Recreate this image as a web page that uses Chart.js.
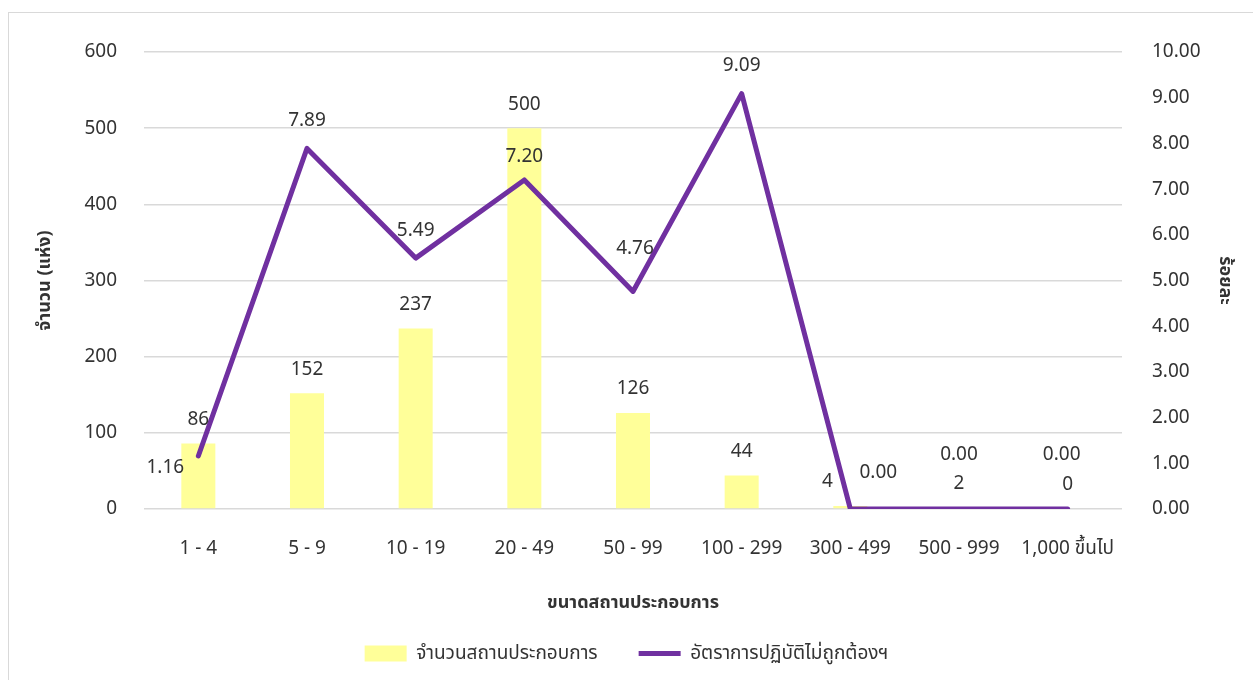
<!DOCTYPE html>
<html>
<head>
<meta charset="utf-8">
<script src="https://cdn.jsdelivr.net/npm/chart.js@4.4.1/dist/chart.umd.min.js"></script>
<style>
  html, body { margin: 0; padding: 0; background: #fff; overflow: hidden; }
  #wrap { position: relative; width: 1253px; height: 680px; }
  #frame { position: absolute; left: 8px; top: 12px; width: 1300px; height: 700px; border: 1.5px solid #d9d9d9; }
  #chart { position: absolute; left: 0; top: 0; }
</style>
</head>
<body>
<div id="wrap">
  <div id="frame"></div>
  <canvas id="chart" width="1253" height="680"></canvas>
</div>
<script>
// sizes of establishments (number of workers)
var sizeLabels = ['1 - 4', '5 - 9', '10 - 19', '20 - 49', '50 - 99', '100 - 299', '300 - 499', '500 - 999', '1,000 ขึ้นไป'];
// number of establishments inspected
var countValues = [86, 152, 237, 500, 126, 44, 4, 2, 0];
// percent found not complying
var rateValues = [1.16, 7.89, 5.49, 7.20, 4.76, 9.09, 0.00, 0.00, 0.00];

var FONT = '"Noto Sans", "Noto Sans Thai", Tahoma, sans-serif';
var TEXT = '#333333';

// value labels: default sits above the mark, a few are shifted to keep clear of the line
var labelShift = {
  0: { 6: [-23, 0] },
  1: { 0: [-33, 40], 3: [0, 5], 4: [2, -15], 6: [28, -8], 7: [0, -26], 8: [-6, -26] }
};

var valueLabels = {
  id: 'valueLabels',
  afterDatasetsDraw: function (chart) {
    var ctx = chart.ctx;
    ctx.save();
    ctx.font = '19px ' + FONT;
    ctx.fillStyle = TEXT;
    ctx.textAlign = 'center';
    ctx.textBaseline = 'middle';
    chart.data.datasets.forEach(function (ds, di) {
      var meta = chart.getDatasetMeta(di);
      meta.data.forEach(function (el, i) {
        var v = ds.data[i];
        var txt = ds.type === 'line' ? v.toFixed(2) : String(v);
        var s = (labelShift[di] && labelShift[di][i]) || [0, 0];
        var x = el.x + s[0];
        var y = el.y - (ds.type === 'line' ? 28 : 24) + s[1];
        ctx.fillText(txt, x, y);
      });
    });
    ctx.restore();
  }
};

new Chart(document.getElementById('chart'), {
  data: {
    labels: sizeLabels,
    datasets: [{
      type: 'bar',
      label: 'จำนวนสถานประกอบการ',
      data: countValues,
      backgroundColor: '#FFFF99',
      borderWidth: 0,
      barPercentage: 0.313,
      categoryPercentage: 1,
      pointStyle: 'rect',
      yAxisID: 'y',
      order: 2
    }, {
      type: 'line',
      label: 'อัตราการปฏิบัติไม่ถูกต้องฯ',
      data: rateValues,
      borderColor: '#7030A0',
      backgroundColor: '#7030A0',
      borderWidth: 5,
      borderCapStyle: 'round',
      borderJoinStyle: 'round',
      pointRadius: 0,
      pointStyle: 'line',
      tension: 0,
      yAxisID: 'y1',
      order: 1
    }]
  },
  options: {
    responsive: false,
    animation: false,
    layout: { padding: { top: 52, bottom: 7, left: 0, right: 0 } },
    plugins: {
      tooltip: { enabled: false },
      legend: {
        position: 'bottom',
        labels: {
          usePointStyle: true,
          pointStyleWidth: 42,
          boxHeight: 16,
          padding: 41,
          color: TEXT,
          font: { family: FONT, size: 19 },
          sort: function (a, b) { return a.datasetIndex - b.datasetIndex; }
        }
      }
    },
    scales: {
      x: {
        grid: { display: false, drawTicks: false },
        border: { display: false },
        ticks: { color: TEXT, padding: 28, font: { family: FONT, size: 19 } },
        title: {
          display: true,
          text: 'ขนาดสถานประกอบการ',
          color: TEXT,
          padding: { top: 0, bottom: -11 },
          font: { family: FONT, size: 18, weight: 'bold' }
        },
        afterFit: function (s) { s.height = 94; }
      },
      y: {
        position: 'left',
        min: 0,
        max: 600,
        grid: { color: '#d9d9d9', lineWidth: 1.5, drawTicks: false },
        border: { display: false },
        ticks: { stepSize: 100, color: TEXT, padding: 27, font: { family: FONT, size: 19 } },
        title: {
          display: true,
          text: 'จำนวน (แห่ง)',
          color: TEXT,
          padding: { top: 34, bottom: 0 },
          font: { family: FONT, size: 18, weight: 'bold' }
        },
        afterFit: function (s) { s.width = 144; }
      },
      y1: {
        position: 'right',
        min: 0,
        max: 10,
        grid: { display: false, drawTicks: false },
        border: { display: false },
        ticks: {
          stepSize: 1,
          color: TEXT,
          padding: 30,
          font: { family: FONT, size: 19 },
          callback: function (v) { return v.toFixed(2); }
        },
        title: {
          display: true,
          text: 'ร้อยละ',
          color: TEXT,
          padding: { top: 17, bottom: 0 },
          font: { family: FONT, size: 18, weight: 'bold' }
        },
        afterFit: function (s) { s.width = 131; }
      }
    }
  },
  plugins: [valueLabels]
});
</script>
</body>
</html>
